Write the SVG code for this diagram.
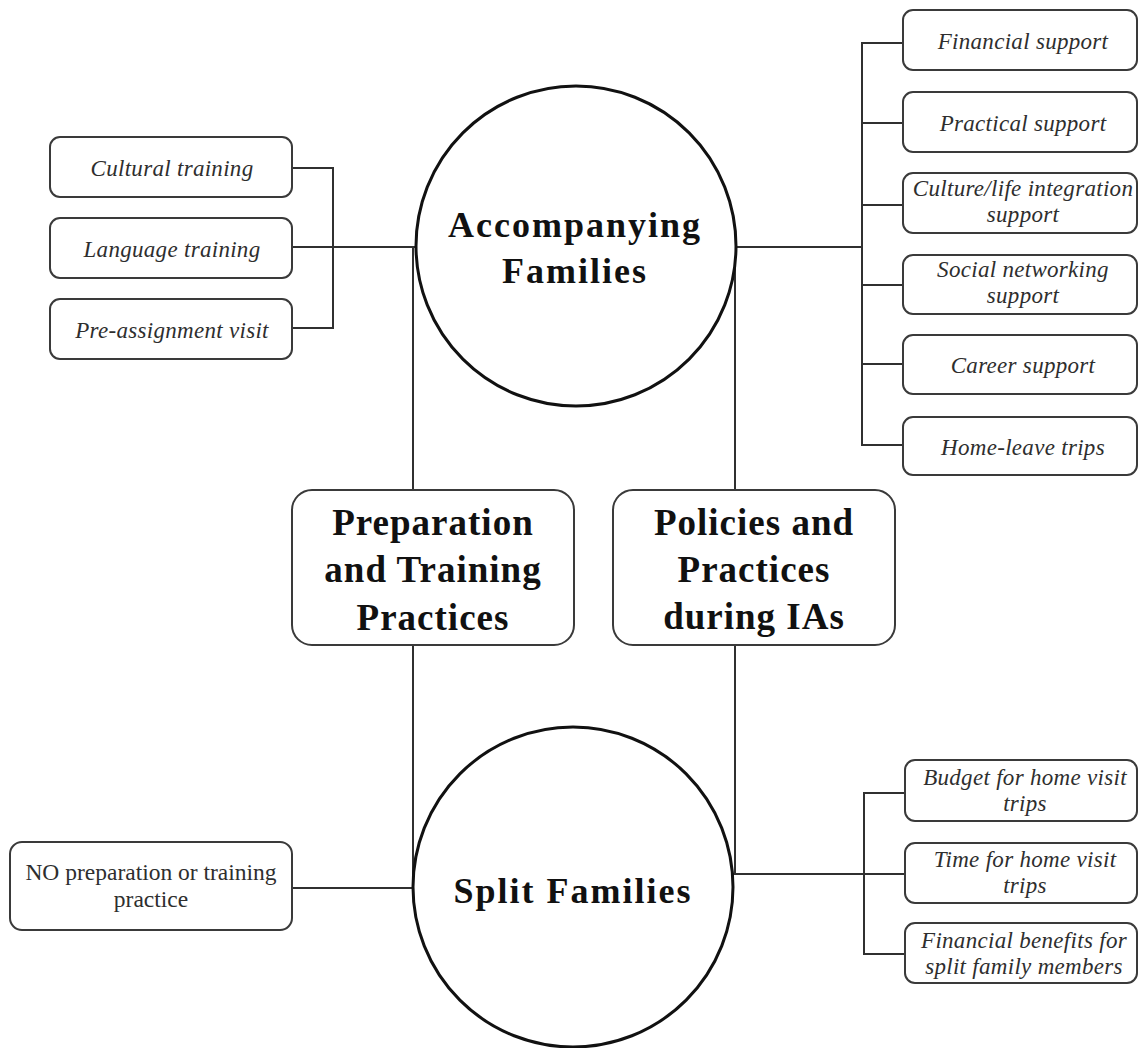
<svg xmlns="http://www.w3.org/2000/svg" width="1139" height="1048" viewBox="0 0 1139 1048">
  <style>
    .bg { fill: #ffffff; }
    .link { fill: none; stroke: #303030; stroke-width: 2; }
    .hub { fill: #ffffff; stroke: #111111; stroke-width: 3; }
    .box { fill: #ffffff; stroke: #3a3a3a; stroke-width: 2; }
    .hubText { font-family: "Liberation Serif", "Times New Roman", serif; font-weight: bold; font-size: 36px; letter-spacing: 2px; fill: #111111; text-anchor: middle; }
    .catText { font-family: "Liberation Serif", "Times New Roman", serif; font-weight: bold; font-size: 37px; letter-spacing: 1px; fill: #111111; text-anchor: middle; }
    .item { font-family: "Liberation Serif", "Times New Roman", serif; font-style: italic; font-size: 23px; letter-spacing: 0.3px; fill: #2e2e2e; text-anchor: middle; }
    .plain { font-family: "Liberation Serif", "Times New Roman", serif; font-size: 23.5px; fill: #2e2e2e; text-anchor: middle; }
  </style>

  <rect class="bg" x="0" y="0" width="1139" height="1048"/>

  <!-- connectors -->
  <g id="connectors">
    <!-- spine lines between the two family circles -->
    <line class="link" x1="413" y1="247" x2="413" y2="888"/>
    <line class="link" x1="735" y1="247" x2="735" y2="874"/>
    <!-- preparation items to accompanying families -->
    <path class="link" d="M292,168 H333 V328 H292"/>
    <line class="link" x1="292" y1="247" x2="415" y2="247"/>
    <!-- support items to accompanying families -->
    <line class="link" x1="737" y1="247" x2="862" y2="247"/>
    <path class="link" d="M903,43 H862 V445 H903"/>
    <line class="link" x1="862" y1="123" x2="903" y2="123"/>
    <line class="link" x1="862" y1="205" x2="903" y2="205"/>
    <line class="link" x1="862" y1="285" x2="903" y2="285"/>
    <line class="link" x1="862" y1="364" x2="903" y2="364"/>
    <!-- split families -->
    <line class="link" x1="292" y1="888" x2="413" y2="888"/>
    <line class="link" x1="733" y1="874" x2="905" y2="874"/>
    <path class="link" d="M905,793 H864 V954 H905"/>
  </g>

  <!-- hubs -->
  <g id="accompanying-families">
    <circle class="hub" cx="576" cy="246" r="160"/>
    <text class="hubText" x="575" y="237">Accompanying</text>
    <text class="hubText" x="575" y="283">Families</text>
  </g>
  <g id="split-families">
    <circle class="hub" cx="573" cy="887" r="160"/>
    <text class="hubText" x="573" y="903">Split Families</text>
  </g>

  <!-- categories -->
  <g id="preparation-training">
    <rect class="box" x="292" y="490" width="282" height="155" rx="20"/>
    <text class="catText" x="433" y="535">Preparation</text>
    <text class="catText" x="433" y="582">and Training</text>
    <text class="catText" x="433" y="630">Practices</text>
  </g>
  <g id="policies-practices">
    <rect class="box" x="613" y="490" width="282" height="155" rx="20"/>
    <text class="catText" x="754" y="535">Policies and</text>
    <text class="catText" x="754" y="582">Practices</text>
    <text class="catText" x="754" y="629">during IAs</text>
  </g>

  <!-- preparation items -->
  <g id="cultural-training">
    <rect class="box" x="50" y="137" width="242" height="60" rx="10"/>
    <text class="item" x="172" y="176">Cultural training</text>
  </g>
  <g id="language-training">
    <rect class="box" x="50" y="218" width="242" height="60" rx="10"/>
    <text class="item" x="172" y="257">Language training</text>
  </g>
  <g id="pre-assignment-visit">
    <rect class="box" x="50" y="299" width="242" height="60" rx="10"/>
    <text class="item" x="172" y="338">Pre-assignment visit</text>
  </g>
  <g id="no-preparation">
    <rect class="box" x="10" y="842" width="282" height="88" rx="12"/>
    <text class="plain" x="151" y="880">NO preparation or training</text>
    <text class="plain" x="151" y="907">practice</text>
  </g>

  <!-- support items -->
  <g id="financial-support">
    <rect class="box" x="903" y="10" width="234" height="60" rx="10"/>
    <text class="item" x="1023" y="49">Financial support</text>
  </g>
  <g id="practical-support">
    <rect class="box" x="903" y="92" width="234" height="60" rx="10"/>
    <text class="item" x="1023" y="131">Practical support</text>
  </g>
  <g id="culture-life-support">
    <rect class="box" x="903" y="173" width="234" height="60" rx="10"/>
    <text class="item" x="1023" y="196">Culture/life integration</text>
    <text class="item" x="1023" y="222">support</text>
  </g>
  <g id="social-networking-support">
    <rect class="box" x="903" y="255" width="234" height="59" rx="10"/>
    <text class="item" x="1023" y="277">Social networking</text>
    <text class="item" x="1023" y="303">support</text>
  </g>
  <g id="career-support">
    <rect class="box" x="903" y="335" width="234" height="59" rx="10"/>
    <text class="item" x="1023" y="373">Career support</text>
  </g>
  <g id="home-leave-trips">
    <rect class="box" x="903" y="417" width="234" height="58" rx="10"/>
    <text class="item" x="1023" y="455">Home-leave trips</text>
  </g>

  <!-- split family items -->
  <g id="budget-home-visit">
    <rect class="box" x="905" y="760" width="232" height="61" rx="10"/>
    <text class="item" x="1025" y="785">Budget for home visit</text>
    <text class="item" x="1025" y="811">trips</text>
  </g>
  <g id="time-home-visit">
    <rect class="box" x="905" y="843" width="232" height="60" rx="10"/>
    <text class="item" x="1025" y="867">Time for home visit</text>
    <text class="item" x="1025" y="893">trips</text>
  </g>
  <g id="financial-benefits-split">
    <rect class="box" x="905" y="923" width="232" height="60" rx="10"/>
    <text class="item" x="1024" y="948">Financial benefits for</text>
    <text class="item" x="1024" y="974">split family members</text>
  </g>
</svg>
